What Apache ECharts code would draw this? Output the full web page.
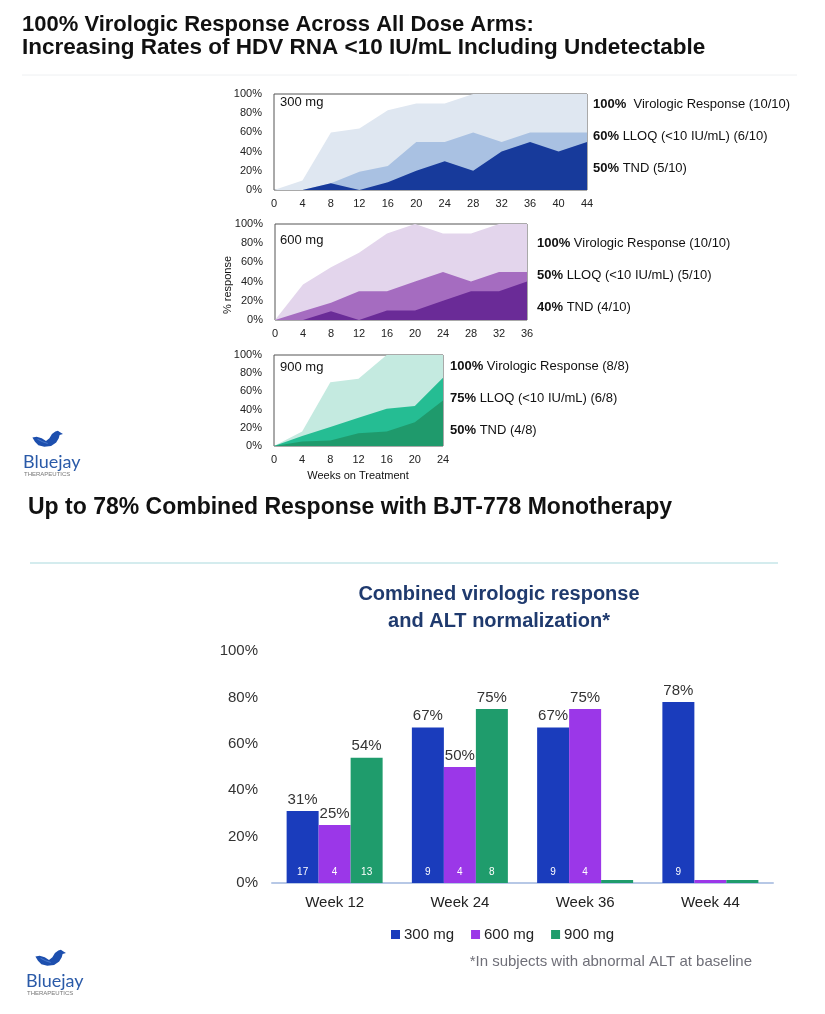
<!DOCTYPE html>
<html><head><meta charset="utf-8">
<script src="https://cdn.jsdelivr.net/npm/echarts@6/dist/echarts.min.js"></script>
<style>html,body{margin:0;padding:0;background:#fff}#c{width:825px;height:1014px}</style>
</head><body><div id="c"></div>
<script>
// ---- Area chart data (% response by week) ----
const weeks300 = [0,4,8,12,16,20,24,28,32,36,40,44];
const vr300   = [0,10,60,64,83,90,90,100,100,100,100,100];
const lloq300 = [0,0,7,19,25,50,50,60,50,60,60,60];
const tnd300  = [0,0,7,0,8,20,30,20,40,50,40,50];

const weeks600 = [0,4,8,12,16,20,24,28,32,36];
const vr600   = [0,37,55,70,90,100,90,90,100,100];
const lloq600 = [0,9,18,30,30,40,50,40,50,50];
const tnd600  = [0,0,9,0,10,10,20,30,30,40];

const weeks900 = [0,4,8,12,16,20,24];
const vr900   = [0,16,70,74,100,100,100];
const lloq900 = [0,11,21,31,41,44,75];
const tnd900  = [0,5,6,14,16,26,50];

// ---- Bar chart data ----
const barCategories = ['Week 12','Week 24','Week 36','Week 44'];
const bar300 = [31,67,67,78];
const bar600 = [25,50,75,0];
const bar900 = [54,75,0,0];
const n300 = ['17','9','9','9'];
const n600 = ['4','4','4',''];
const n900 = ['13','8','',''];
const doseNames = ['300 mg','600 mg','900 mg'];

const FF = 'Liberation Sans, Arial, sans-serif';
const chart = echarts.init(document.getElementById('c'), null, {renderer:'canvas'});

function pairs(xs, ys){ return xs.map((x,i)=>[x, ys[i]]); }

const areaGrids = [
  {left:274, top:94, width:313, height:96, max:44},
  {left:275, top:224, width:252, height:96, max:36},
  {left:274, top:355, width:169, height:91, max:24}
];
const areaSets = [
  {w:weeks300, s:[vr300,lloq300,tnd300], c:['#dfe7f1','#a9c1e2','#173a9b']},
  {w:weeks600, s:[vr600,lloq600,tnd600], c:['#e3d5ec','#a56cc0','#6a2b97']},
  {w:weeks900, s:[vr900,lloq900,tnd900], c:['#c4eae0','#25bd93','#1f9a6c']}
];

const grids = [], xAxes = [], yAxes = [], series = [];
areaGrids.forEach((g,i)=>{
  grids.push({left:g.left, top:g.top, width:g.width, height:g.height, show:true, borderColor:'#555', borderWidth:1, backgroundColor:'transparent'});
  xAxes.push({type:'value', gridIndex:i, min:0, max:g.max, interval:4,
    axisLine:{show:false}, axisTick:{show:false}, splitLine:{show:false},
    axisLabel:{fontSize:11, color:'#222', fontFamily:FF, margin:8}});
  yAxes.push({type:'value', gridIndex:i, min:0, max:100, interval:20,
    axisLine:{show:false}, axisTick:{show:false}, splitLine:{show:false},
    axisLabel:{fontSize:11, color:'#222', fontFamily:FF, formatter:'{value}%', margin:12}});
  const set = areaSets[i];
  set.s.forEach((arr,k)=>{
    series.push({type:'line', xAxisIndex:i, yAxisIndex:i, data:pairs(set.w, arr),
      symbol:'none', lineStyle:{width:0}, areaStyle:{color:set.c[k], opacity:1},
      itemStyle:{color:set.c[k]}, silent:true, z:2+k});
  });
});

// Bar chart grid (index 3) with overlay x axis (index 4)
grids.push({left:272, top:651, width:501, height:232, show:false});
xAxes.push({type:'category', gridIndex:3, data:barCategories,
  axisLine:{show:true, lineStyle:{color:'#b7c8e6', width:2}}, axisTick:{show:false},
  axisLabel:{fontSize:15, color:'#222', fontFamily:FF, margin:12}});
xAxes.push({type:'category', gridIndex:3, data:barCategories, show:false});
yAxes.push({type:'value', gridIndex:3, min:0, max:100, interval:20,
  axisLine:{show:false}, axisTick:{show:false}, splitLine:{show:false},
  axisLabel:{fontSize:15, color:'#333', fontFamily:FF, formatter:'{value}%', margin:14}});

const barColors = ['#1a3cbc','#9b37e8','#1f9c6c'];
const barVals = [bar300, bar600, bar900];
const barNs = [n300, n600, n900];
barVals.forEach((vals,k)=>{
  series.push({type:'bar', name:doseNames[k], xAxisIndex:3, yAxisIndex:3, data:vals,
    barWidth:32, barGap:'0%', barMinHeight:3, itemStyle:{color:barColors[k]},
    label:{show:true, position:'top', distance:4, fontSize:15, color:'#333', fontFamily:FF,
      formatter:p=> p.value>0 ? p.value+'%' : ''}});
});
barVals.forEach((vals,k)=>{
  series.push({type:'bar', name:'n'+k, xAxisIndex:4, yAxisIndex:3, data:vals,
    barWidth:32, barGap:'0%', itemStyle:{color:'rgba(0,0,0,0)'}, silent:true, z:5,
    label:{show:true, position:'insideBottom', distance:6, fontSize:10, color:'#fff', fontFamily:FF,
      formatter:p=> barNs[k][p.dataIndex]}});
});

function txt(x,y,text,opt){
  return {type:'text', x:x, y:y, silent:true,
    style:Object.assign({text:text, fontFamily:FF, fontSize:13, fill:'#111', align:'left', verticalAlign:'middle'}, opt||{})};
}
const rich = {b:{fontWeight:'bold', fontSize:13, fontFamily:FF, color:'#111'}, n:{fontSize:13, fontFamily:FF, color:'#111'}};
function rlabel(x,y,bold,rest){ return txt(x,y,'{b|'+bold+'}{n|'+rest+'}',{rich:rich}); }

function logo(x,y){
  return {type:'group', x:x, y:y, silent:true, children:[
    {type:'group', x:6, y:-3, scaleX:0.85, scaleY:0.85, children:[
      {type:'polygon', shape:{points:[[4,10],[9,9],[15,11],[20,14],[24,11],[27,6],[31,3],[34,2],[37,4],[40,6],[36,7],[35,11],[32,16],[26,20],[18,21],[11,19],[7,15]]}, style:{fill:'#1d4fae'}},
      {type:'polyline', shape:{points:[[10,12],[16,15],[22,17]]}, style:{stroke:'#5b8ad8', lineWidth:0.8, fill:null}}
    ]},
    {type:'text', x:0, y:30, style:{text:'Bluejay', fontFamily:'Lato, sans-serif', fontSize:18, fill:'#2a5aa8', align:'left', verticalAlign:'middle'}},
    {type:'text', x:1, y:42, style:{text:'THERAPEUTICS', fontFamily:FF, fontSize:6, fill:'#777', align:'left', verticalAlign:'middle'}}
  ]};
}

const graphics = [
  txt(22,25,'100% Virologic Response Across All Dose Arms:',{fontSize:22, fontWeight:'bold'}),
  txt(22,48,'Increasing Rates of HDV RNA <10 IU/mL Including Undetectable',{fontSize:22.5, fontWeight:'bold'}),
  {type:'line', silent:true, shape:{x1:22,y1:75,x2:797,y2:75}, style:{stroke:'#eef0f2', lineWidth:1}},
  txt(280,102,'300 mg'), txt(280,240,'600 mg'), txt(280,367,'900 mg'),
  rlabel(593,104,'100%','  Virologic Response (10/10)'),
  rlabel(593,136,'60%',' LLOQ (<10 IU/mL) (6/10)'),
  rlabel(593,168,'50%',' TND (5/10)'),
  rlabel(537,243,'100%',' Virologic Response (10/10)'),
  rlabel(537,275,'50%',' LLOQ (<10 IU/mL) (5/10)'),
  rlabel(537,307,'40%',' TND (4/10)'),
  rlabel(450,366,'100%',' Virologic Response (8/8)'),
  rlabel(450,398,'75%',' LLOQ (<10 IU/mL) (6/8)'),
  rlabel(450,430,'50%',' TND (4/8)'),
  Object.assign(txt(228,285,'% response',{fontSize:11, align:'center'}),{rotation:Math.PI/2}),
  txt(358,476,'Weeks on Treatment',{fontSize:11, align:'center'}),
  logo(23,432),
  txt(28,508,'Up to 78% Combined Response with BJT-778 Monotherapy',{fontSize:23, fontWeight:'bold'}),
  {type:'line', silent:true, shape:{x1:30,y1:563,x2:778,y2:563}, style:{stroke:'#a9d9dd', lineWidth:1}},
  txt(499,594,'Combined virologic response',{fontSize:20, fontWeight:'bold', fill:'#1f3a6e', align:'center'}),
  txt(499,621,'and ALT normalization*',{fontSize:20, fontWeight:'bold', fill:'#1f3a6e', align:'center'}),
  txt(752,962,'*In subjects with abnormal ALT at baseline',{fontSize:15, fill:'#6f6f78', align:'right'}),
  logo(26,951)
];

chart.setOption({
  animation:false,
  backgroundColor:'#fff',
  grid:grids, xAxis:xAxes, yAxis:yAxes, series:series,
  legend:{data:doseNames, left:386, top:922, icon:'rect', itemWidth:9, itemHeight:9, itemGap:17,
    textStyle:{fontSize:15, color:'#222', fontFamily:FF, padding:[0,0,0,-1]}, selectedMode:false},
  graphic:graphics
});
</script></body></html>
